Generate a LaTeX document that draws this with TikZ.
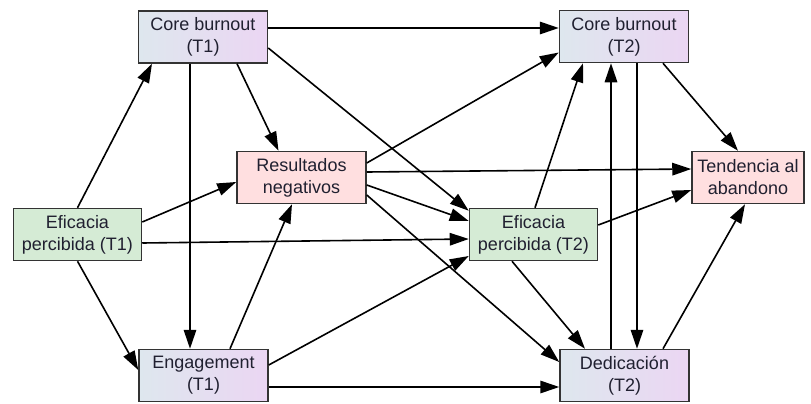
\documentclass[tikz,border=0pt]{standalone}
\usepackage{fontspec}
\setmainfont{Liberation Sans}
\usetikzlibrary{arrows.meta}
\definecolor{inkc}{HTML}{202030}
\definecolor{edgec}{HTML}{333333}
\definecolor{greenf}{HTML}{D5EBD5}
\definecolor{pinkf}{HTML}{FFDFE0}
\definecolor{blueL}{HTML}{DEE7EE}
\definecolor{lilacR}{HTML}{EBD6F3}
\begin{document}
\begin{tikzpicture}[x=1pt,y=-1pt,
  box/.style={draw=edgec,line width=1.5pt,inner sep=0pt,align=center,
    minimum height=52pt,text=inkc,
    font=\fontsize{18}{22}\selectfont},
  timebox/.style={box,minimum width=129pt,left color=blueL,right color=lilacR},
  effbox/.style={box,minimum width=128pt,fill=greenf},
  outbox/.style={box,fill=pinkf},
  link/.style={-{Triangle[length=19pt,width=12.5pt]},line width=1.6pt,draw=black}]
\useasboundingbox (0,0) rectangle (811,404);

% constructs
\node[timebox] (cb1) at (203,37) {Core burnout\\(T1)};
\node[timebox] (cb2) at (624,36.5) {Core burnout\\(T2)};
\node[outbox,minimum width=129pt] (res) at (301.5,177.5) {Resultados\\negativos};
\node[outbox,minimum width=112pt] (ten) at (748,177.5) {Tendencia al\\abandono};
\node[effbox] (ef1) at (77.5,234.5) {Eficacia\\percibida (T1)};
\node[effbox] (ef2) at (533.5,234.5) {Eficacia\\percibida (T2)};
\node[timebox] (eng) at (203.5,375.5) {Engagement\\(T1)};
\node[timebox] (ded) at (624.5,375.5) {Dedicación\\(T2)};

% paths
\draw[link] ([yshift=9pt]cb1.east) -- ([yshift=8.5pt]cb2.west);
\draw[link] ([xshift=34pt]cb1.south) -- ([xshift=-23pt]res.north);
\draw[link] ([xshift=-13pt]cb1.south) -- ([xshift=-13.5pt]eng.north);
\draw[link] ([yshift=-11pt]cb1.east) -- ([yshift=-3pt]ef2.north west);
\draw[link] (ef1.north) -- ([xshift=-51pt]cb1.south);
\draw[link] ([yshift=12.5pt]ef1.east) -- ([yshift=-4.5pt]res.west);
\draw[link] ([yshift=-8.5pt]ef1.east) -- ([yshift=-4.5pt]ef2.west);
\draw[link] (ef1.south) -- ([yshift=5.5pt]eng.west);
\draw[link] ([xshift=26.5pt]eng.north) -- ([xshift=-9.5pt]res.south);
\draw[link] ([yshift=10.5pt]eng.east) -- ([yshift=-21.5pt]ef2.west);
\draw[link] ([yshift=-11.5pt]eng.east) -- ([yshift=-11.5pt]ded.west);
\draw[link] ([yshift=14.5pt]res.east) -- ([yshift=-16pt]cb2.west);
\draw[link] ([yshift=5.5pt]res.east) -- ([yshift=8.5pt]ten.west);
\draw[link] ([yshift=-7.5pt]res.east) -- ([yshift=13.5pt]ef2.west);
\draw[link] ([yshift=-17.5pt]res.east) -- ([yshift=13.5pt]ded.west);
\draw[link] ([xshift=1.5pt]ef2.north) -- ([xshift=-41pt]cb2.south);
\draw[link] ([yshift=9.5pt]ef2.east) -- ([yshift=-12.5pt]ten.west);
\draw[link] ([xshift=-21.5pt]ef2.south) -- ([xshift=-39.5pt]ded.north);
\draw[link] ([xshift=-13.5pt]ded.north) -- ([xshift=-13pt]cb2.south);
\draw[link] ([xshift=13pt]cb2.south) -- ([xshift=12.5pt]ded.north);
\draw[link] ([xshift=39pt]cb2.south) -- ([xshift=-10pt]ten.north);
\draw[link] ([xshift=38.5pt]ded.north) -- ([xshift=-3pt]ten.south);
\end{tikzpicture}
\end{document}
